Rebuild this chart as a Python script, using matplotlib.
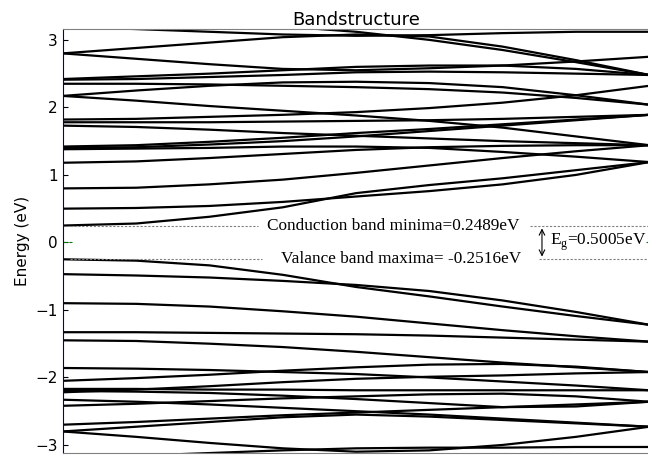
# Bandstructure plot with band-gap annotation
import numpy as np
import matplotlib
matplotlib.use('Agg')
import matplotlib.pyplot as plt

# k-path positions where the band energies were read
kpts = [0.0, 0.125, 0.25, 0.375, 0.5, 0.625, 0.75, 0.875, 1.0]

# conduction bands (eV)
cond_bands = [
    [0.25, 0.28, 0.38, 0.52, 0.73, 0.85, 0.95, 1.07, 1.19],
    [0.50, 0.51, 0.54, 0.60, 0.68, 0.76, 0.86, 1.00, 1.19],
    [0.80, 0.81, 0.86, 0.93, 1.03, 1.14, 1.25, 1.35, 1.44],
    [1.18, 1.20, 1.25, 1.31, 1.37, 1.41, 1.43, 1.44, 1.44],
    [1.38, 1.39, 1.40, 1.42, 1.42, 1.40, 1.34, 1.27, 1.19],
    [1.40, 1.41, 1.45, 1.50, 1.57, 1.65, 1.73, 1.81, 1.89],
    [1.42, 1.44, 1.49, 1.55, 1.62, 1.68, 1.75, 1.82, 1.89],
    [1.73, 1.71, 1.67, 1.62, 1.58, 1.54, 1.50, 1.47, 1.44],
    [1.78, 1.78, 1.78, 1.79, 1.80, 1.81, 1.83, 1.86, 1.89],
    [1.82, 1.83, 1.86, 1.89, 1.93, 1.99, 2.07, 2.18, 2.32],
    [2.17, 2.10, 2.02, 1.95, 1.88, 1.80, 1.70, 1.57, 1.44],
    [2.17, 2.25, 2.32, 2.37, 2.38, 2.36, 2.30, 2.18, 2.04],
    [2.35, 2.35, 2.34, 2.32, 2.30, 2.27, 2.22, 2.14, 2.04],
    [2.41, 2.42, 2.45, 2.48, 2.52, 2.53, 2.52, 2.50, 2.48],
    [2.42, 2.46, 2.50, 2.55, 2.60, 2.62, 2.62, 2.57, 2.48],
    [2.80, 2.88, 2.96, 3.04, 3.08, 3.05, 2.90, 2.70, 2.48],
    [2.80, 2.72, 2.64, 2.57, 2.55, 2.58, 2.62, 2.68, 2.75],
    [3.20, 3.16, 3.12, 3.08, 3.06, 3.07, 3.10, 3.12, 3.12],
    [3.30, 3.28, 3.25, 3.20, 3.12, 3.00, 2.85, 2.67, 2.48],
]

# valence bands (eV)
val_bands = [
    [-0.25, -0.27, -0.34, -0.48, -0.66, -0.80, -0.95, -1.09, -1.22],
    [-0.47, -0.49, -0.52, -0.57, -0.63, -0.72, -0.86, -1.03, -1.22],
    [-0.90, -0.91, -0.95, -1.02, -1.10, -1.20, -1.30, -1.39, -1.47],
    [-1.33, -1.33, -1.34, -1.35, -1.36, -1.38, -1.41, -1.44, -1.47],
    [-1.45, -1.46, -1.50, -1.55, -1.62, -1.70, -1.78, -1.85, -1.92],
    [-1.86, -1.87, -1.89, -1.92, -1.95, -2.00, -2.06, -2.12, -2.19],
    [-2.05, -2.01, -1.96, -1.90, -1.85, -1.81, -1.80, -1.84, -1.92],
    [-2.17, -2.17, -2.18, -2.18, -2.19, -2.19, -2.19, -2.19, -2.19],
    [-2.20, -2.21, -2.23, -2.27, -2.32, -2.38, -2.44, -2.43, -2.36],
    [-2.22, -2.18, -2.13, -2.07, -2.02, -1.99, -1.97, -1.94, -1.92],
    [-2.33, -2.36, -2.40, -2.45, -2.50, -2.55, -2.61, -2.67, -2.73],
    [-2.42, -2.39, -2.35, -2.31, -2.28, -2.25, -2.24, -2.28, -2.36],
    [-2.70, -2.66, -2.61, -2.56, -2.52, -2.48, -2.44, -2.40, -2.36],
    [-2.80, -2.88, -2.97, -3.05, -3.10, -3.08, -3.00, -2.88, -2.73],
    [-2.80, -2.73, -2.66, -2.59, -2.55, -2.58, -2.63, -2.68, -2.73],
    [-3.20, -3.16, -3.12, -3.08, -3.05, -3.04, -3.04, -3.03, -3.03],
]

cbm = 0.2489
vbm = -0.2516
gap = 0.5005

fig = plt.figure(figsize=(6.48, 4.69), dpi=100)
ax = fig.add_axes([0.097, 0.034, 0.905, 0.904])

for b in cond_bands + val_bands:
    ax.plot(kpts, b, color='black', lw=1.6)

# fermi level (only the ends show)
ax.plot([0.0, 0.015], [0, 0], color='green', ls='--', lw=0.8)
ax.plot([0.995, 1.0], [0, 0], color='green', ls='--', lw=0.8)

# band edge guide lines
ax.plot([0.012, 0.333], [cbm, cbm], color='gray', ls='--', lw=0.8, dashes=(2, 1.5))
ax.plot([0.797, 1.0], [cbm, cbm], color='gray', ls='--', lw=0.8, dashes=(2, 1.5))
ax.plot([0.012, 0.34], [vbm, vbm], color='gray', ls='--', lw=0.8, dashes=(2, 1.5))
ax.plot([0.812, 1.0], [vbm, vbm], color='gray', ls='--', lw=0.8, dashes=(2, 1.5))

ax.annotate('', xy=(0.817, cbm), xytext=(0.817, vbm),
            arrowprops=dict(arrowstyle='<->', color='black', lw=0.8))

serif = ['Liberation Serif', 'DejaVu Serif']
ax.text(0.564, cbm, 'Conduction band minima=0.2489eV', ha='center', va='center',
        fontsize=12.4, family=serif)
ax.text(0.576, vbm, 'Valance band maxima= -0.2516eV', ha='center', va='center',
        fontsize=12.4, family=serif)
ax.text(0.831, 0.0, r'E$_\mathregular{g}$=%.4feV' % gap, ha='left', va='center',
        fontsize=12.4, family=serif)

ax.set_xlim(0, 1)
ax.set_ylim(-3.12, 3.16)
ax.set_xticks([])
ax.set_yticks([-3, -2, -1, 0, 1, 2, 3])
ax.tick_params(axis='y', direction='in', labelsize=11)
ax.set_ylabel('Energy (eV)', fontsize=11)
ax.set_title('Bandstructure', fontsize=13, pad=3)
ax.spines['left'].set_color('navy')
for s in ['top', 'bottom', 'right']:
    ax.spines[s].set_color('gray')

fig.savefig('out.png', dpi=100)
